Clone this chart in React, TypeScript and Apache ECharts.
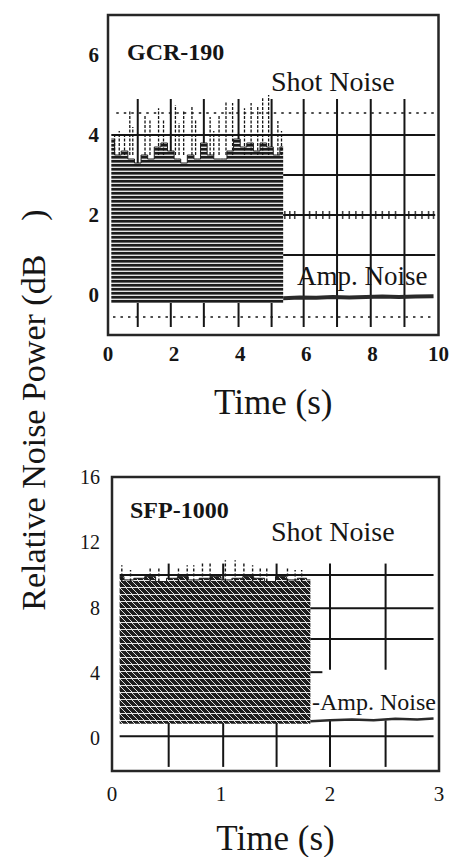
import React, { useEffect, useRef } from "react";
import * as echarts from "echarts";

const FONT = "'Liberation Serif', 'DejaVu Serif', serif";
const INK = "#151515";

// ---------- Panel 1: GCR-190 ----------
const gcrBandX = [0.1, 0.3, 0.5, 0.7, 0.9, 1.1, 1.3, 1.5, 1.7, 1.9, 2.1, 2.3, 2.5, 2.7, 2.9, 3.1, 3.3, 3.5, 3.7, 3.9, 4.1, 4.3, 4.5, 4.7, 4.9, 5.1, 5.3];
const gcrBandTop = [3.9, 3.5, 3.6, 3.4, 3.3, 3.5, 3.4, 3.7, 3.8, 3.6, 3.4, 3.3, 3.5, 3.4, 3.8, 3.5, 3.4, 3.4, 3.6, 3.9, 3.7, 3.8, 3.6, 3.8, 3.7, 3.5, 3.7];
const gcrBandFloor = -0.2;
const gcrSpikeX = [0.2, 0.34, 0.5, 0.66, 0.75, 1.12, 1.27, 1.53, 1.68, 2.04, 2.15, 2.29, 2.54, 2.65, 3.09, 3.2, 3.36, 3.57, 3.77, 4.13, 4.33, 4.53, 4.68, 4.86, 5.14, 5.25];
const gcrSpikeTop = [4.0, 4.1, 4.05, 4.6, 4.2, 4.5, 4.4, 4.67, 4.4, 4.75, 4.3, 4.6, 4.7, 4.4, 4.45, 4.1, 4.5, 4.83, 4.8, 4.67, 4.8, 4.7, 4.92, 5.0, 4.35, 4.1];
const gcrSpikeBase = 3.5;
const gcrGridX = [0.9, 1.9, 2.9, 3.95, 4.95, 5.92, 6.93, 7.95, 8.97];
const gcrGridRange = [-0.8, 4.9];
const gcrSolidY = [4, 3, 2, 1];
const gcrSolidStart = [0.1, 5.3, 5.3, 5.3];
const gcrSolidEnd = 9.9;
const gcrDottedY = [4.55, -0.55];
const gcrDottedStart = [0.25, 0.15];
const gcrAmpX = [5.3, 5.8, 6.3, 6.8, 7.3, 7.8, 8.3, 8.8, 9.3, 9.85];
const gcrAmpY = [-0.08, -0.06, -0.07, -0.05, -0.06, -0.05, -0.04, -0.05, -0.04, -0.03];
const gcrMarkX = [5.35, 5.5, 5.65, 6.1, 6.3, 6.5, 6.7, 7.1, 7.3, 7.5, 7.7, 8.1, 8.3, 8.5, 8.7, 9.1, 9.3, 9.5, 9.7, 9.85];
const gcrMarkY = 2;

// ---------- Panel 2: SFP-1000 ----------
const sfpBandX = [0.07, 0.15, 0.25, 0.35, 0.45, 0.55, 0.65, 0.75, 0.85, 0.95, 1.05, 1.15, 1.25, 1.35, 1.45, 1.55, 1.65, 1.75, 1.82];
const sfpBandTop = [9.9, 9.7, 9.8, 9.9, 9.6, 9.8, 9.9, 9.7, 9.8, 9.9, 9.7, 9.8, 9.9, 9.8, 9.6, 9.9, 9.7, 9.8, 9.7];
const sfpBandFloor = 0.9;
const sfpSpikeX = [0.09, 0.17, 0.35, 0.43, 0.61, 0.69, 0.75, 0.83, 0.9, 1.04, 1.13, 1.21, 1.29, 1.36, 1.42, 1.61, 1.68, 1.74];
const sfpSpikeTop = [10.6, 10.3, 10.4, 10.4, 10.5, 10.6, 10.6, 10.7, 10.7, 10.9, 10.9, 10.7, 10.6, 10.5, 10.4, 10.4, 10.3, 10.3];
const sfpSpikeBase = 9.6;
const sfpGridXLeft = [0.52, 1.02, 1.51];
const sfpGridXRight = [2.0, 2.51];
const sfpGridTop = 10.7;
const sfpGridBottom = -1.75;
const sfpGapLow = 1.1;
const sfpGapHigh = 4.2;
const sfpSolidY = [10.0, 7.97, 6.08, 4.05, 0.12];
const sfpSolidStart = [0.07, 1.82, 1.82, 1.82, 0.07];
const sfpSolidEnd = [2.95, 2.95, 2.95, 1.93, 2.95];
const sfpAmpX = [1.82, 2.0, 2.2, 2.4, 2.6, 2.8, 2.95];
const sfpAmpY = [1.05, 1.1, 1.15, 1.1, 1.2, 1.15, 1.22];

function makePattern(kind: string) {
  const c = document.createElement("canvas");
  const g = c.getContext("2d") as CanvasRenderingContext2D;
  if (kind === "rows") {
    c.width = 4;
    c.height = 4;
    g.fillStyle = "#1c1c1c";
    g.fillRect(0, 0, 4, 4);
    g.fillStyle = "#6a6a6a";
    g.fillRect(0, 2, 4, 1);
    g.fillStyle = "#e2e2e2";
    g.fillRect(0, 3, 4, 1);
  } else {
    c.width = 6;
    c.height = 7;
    g.fillStyle = "#1e1e1e";
    g.fillRect(0, 0, 6, 7);
    g.strokeStyle = "#dcdcdc";
    g.lineWidth = 1;
    g.beginPath();
    g.moveTo(0, 0);
    g.lineTo(6, 6);
    g.stroke();
    g.fillStyle = "#e6e6e6";
    g.fillRect(0, 6, 6, 1);
  }
  return { image: c.toDataURL(), repeat: "repeat", imageWidth: c.width, imageHeight: c.height };
}

function segSeries(idx: number, data: number[][], width: number, dash: any, z: number) {
  return {
    type: "custom",
    xAxisIndex: idx,
    yAxisIndex: idx,
    data,
    z,
    silent: true,
    encode: { x: [0, 2], y: [1, 3] },
    renderItem: (_p: any, api: any) => {
      const a = api.coord([api.value(0), api.value(1)]);
      const b = api.coord([api.value(2), api.value(3)]);
      return {
        type: "line",
        shape: { x1: a[0], y1: a[1], x2: b[0], y2: b[1] },
        style: { stroke: INK, lineWidth: width, lineDash: dash },
      };
    },
  };
}

export default function App() {
  const ref = useRef<HTMLDivElement>(null);
  useEffect(() => {
    if (!ref.current) return;
    const chart = echarts.init(ref.current, null, { renderer: "svg" });
    const rowsPat = makePattern("rows");
    const hatchPat = makePattern("hatch");

    const axisLabel = (size: number, margin: number, weight: string, fmt?: any) => ({
      fontFamily: FONT,
      fontSize: size,
      color: INK,
      margin,
      fontWeight: weight,
      formatter: fmt,
    });
    const bare = { axisLine: { show: false }, axisTick: { show: false }, splitLine: { show: false } };

    const gcrVert = gcrGridX.map((x) => [x, gcrGridRange[0], x, gcrGridRange[1]]);
    const gcrSolid = gcrSolidY.map((y, i) => [gcrSolidStart[i], y, gcrSolidEnd, y]);
    const gcrDotted = gcrDottedY.map((y, i) => [gcrDottedStart[i], y, gcrSolidEnd, y]);
    const gcrSpikes = gcrSpikeX.map((x, i) => [x, gcrSpikeBase, x, gcrSpikeTop[i]]);

    const sfpVert = [
      ...sfpGridXLeft.map((x) => [x, sfpGridBottom, x, sfpGridTop]),
      ...sfpGridXRight.map((x) => [x, sfpGapHigh, x, sfpGridTop]),
      ...sfpGridXRight.map((x) => [x, sfpGridBottom, x, sfpGapLow]),
    ];
    const sfpSolid = sfpSolidY.map((y, i) => [sfpSolidStart[i], y, sfpSolidEnd[i], y]);
    const sfpSpikes = sfpSpikeX.map((x, i) => [x, sfpSpikeBase, x, sfpSpikeTop[i]]);

    const titleText = (text: string, x: number, y: number, size: number, bold = false) => ({
      type: "text",
      x,
      y,
      silent: true,
      style: {
        text,
        fill: INK,
        font: `${bold ? "bold " : ""}${size}px ${FONT}`,
        align: "left",
        verticalAlign: "middle",
      },
    });

    chart.setOption({
      animation: false,
      backgroundColor: "#ffffff",
      grid: [
        { left: 108, top: 15, width: 331, height: 320, show: true, borderColor: "#262626", borderWidth: 2.5, backgroundColor: "transparent" },
        { left: 112, top: 477, width: 327, height: 295, show: true, borderColor: "#262626", borderWidth: 2.5, backgroundColor: "transparent" },
      ],
      xAxis: [
        {
          type: "value", gridIndex: 0, min: 0, max: 10, interval: 2, ...bare,
          axisLabel: axisLabel(21, 8, "bold"),
          name: "Time (s)", nameLocation: "middle", nameGap: 50,
          nameTextStyle: { fontFamily: FONT, fontSize: 35, color: INK },
        },
        {
          type: "value", gridIndex: 1, min: 0, max: 3, interval: 1, ...bare,
          axisLabel: axisLabel(21, 12, "normal"),
          name: "Time (s)", nameLocation: "middle", nameGap: 50,
          nameTextStyle: { fontFamily: FONT, fontSize: 35, color: INK },
        },
      ],
      yAxis: [
        {
          type: "value", gridIndex: 0, min: -1, max: 7, interval: 1, ...bare,
          axisLabel: axisLabel(21, 9, "bold", (v: number) => (v >= 0 && v % 2 === 0 ? String(v) : "")),
        },
        {
          type: "value", gridIndex: 1, min: -2, max: 16, interval: 2, ...bare,
          axisLabel: axisLabel(20, 12, "normal", (v: number) => (v >= 0 && v % 4 === 0 ? String(v) : "")),
        },
      ],
      graphic: [
        titleText("GCR-190", 127, 52, 24, true),
        titleText("Shot Noise", 271, 81, 28),
        titleText("Amp. Noise", 297, 276, 27),
        titleText("SFP-1000", 130, 510, 24, true),
        titleText("Shot Noise", 271, 531, 28),
        titleText("-Amp. Noise", 312, 702, 24),
        {
          type: "text",
          x: 33,
          y: 410,
          rotation: Math.PI / 2,
          silent: true,
          style: {
            text: "Relative Noise Power (dB\u00a0\u00a0\u00a0\u00a0)",
            fill: INK,
            font: `34px ${FONT}`,
            align: "center",
            verticalAlign: "middle",
          },
        },
      ],
      series: [
        // panel 1
        segSeries(0, gcrVert, 2, null, 1),
        {
          type: "line", xAxisIndex: 0, yAxisIndex: 0, z: 2, step: "middle", symbol: "none", silent: true,
          data: gcrBandX.map((x, i) => [x, gcrBandTop[i]]),
          lineStyle: { width: 1, color: "#1c1c1c" },
          areaStyle: { origin: gcrBandFloor, color: rowsPat, opacity: 1 },
        },
        segSeries(0, gcrSpikes, 1.3, [3, 1.5], 3),
        segSeries(0, gcrSolid, 1.8, null, 3),
        segSeries(0, gcrDotted, 1.6, [2.5, 5], 3),
        {
          type: "line", xAxisIndex: 0, yAxisIndex: 0, z: 3, symbol: "none", silent: true,
          data: gcrAmpX.map((x, i) => [x, gcrAmpY[i]]),
          lineStyle: { width: 4, color: "#2a2a2a" },
        },
        {
          type: "scatter", xAxisIndex: 0, yAxisIndex: 0, z: 4, silent: true,
          symbol: "rect", symbolSize: [1.6, 8],
          data: gcrMarkX.map((x) => [x, gcrMarkY]),
          itemStyle: { color: INK },
        },
        // panel 2
        segSeries(1, sfpVert, 2, null, 1),
        {
          type: "line", xAxisIndex: 1, yAxisIndex: 1, z: 2, step: "middle", symbol: "none", silent: true,
          data: sfpBandX.map((x, i) => [x, sfpBandTop[i]]),
          lineStyle: { width: 1, color: "#1c1c1c" },
          areaStyle: { origin: sfpBandFloor, color: hatchPat, opacity: 1 },
        },
        segSeries(1, sfpSpikes, 1.4, [3, 2], 3),
        segSeries(1, sfpSolid, 2, null, 3),
        {
          type: "line", xAxisIndex: 1, yAxisIndex: 1, z: 3, symbol: "none", silent: true,
          data: sfpAmpX.map((x, i) => [x, sfpAmpY[i]]),
          lineStyle: { width: 2.5, color: "#2a2a2a" },
        },
      ],
    });
    return () => chart.dispose();
  }, []);
  return <div ref={ref} style={{ position: "absolute", left: 0, top: 0, width: 452, height: 857 }} />;
}
